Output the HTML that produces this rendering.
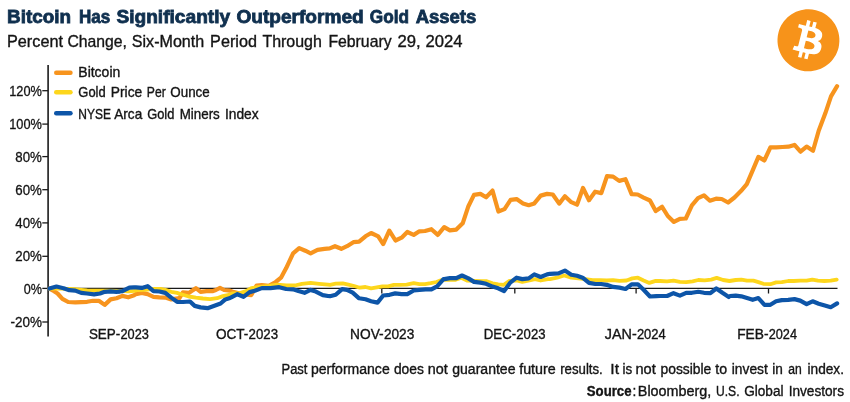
<!DOCTYPE html>
<html><head><meta charset="utf-8"><title>Bitcoin Has Significantly Outperformed Gold Assets</title>
<style>
html,body{margin:0;padding:0;background:#fff}
svg{display:block;font-family:"Liberation Sans",sans-serif}
</style></head><body>
<svg width="850" height="402" viewBox="0 0 850 402">
<rect width="850" height="402" fill="#fff"/>
<text y="22.7" font-size="17.9" font-weight="700" fill="#10304f" stroke="#10304f" stroke-width="0.8"><tspan x="7.0" textLength="64.0" lengthAdjust="spacingAndGlyphs">Bitcoin</tspan> <tspan x="79.0" textLength="31.2" lengthAdjust="spacingAndGlyphs">Has</tspan> <tspan x="116.4" textLength="113.8" lengthAdjust="spacingAndGlyphs">Significantly</tspan> <tspan x="236.4" textLength="127.3" lengthAdjust="spacingAndGlyphs">Outperformed</tspan> <tspan x="369.8" textLength="39.2" lengthAdjust="spacingAndGlyphs">Gold</tspan> <tspan x="415.7" textLength="60.6" lengthAdjust="spacingAndGlyphs">Assets</tspan></text>
<text y="47" font-size="16.2" font-weight="400" fill="#141414" stroke="#141414" stroke-width="0.35"><tspan x="7.0" textLength="56.0" lengthAdjust="spacingAndGlyphs">Percent</tspan> <tspan x="67.4" textLength="59.6" lengthAdjust="spacingAndGlyphs">Change,</tspan> <tspan x="131.8" textLength="72.4" lengthAdjust="spacingAndGlyphs">Six-Month</tspan> <tspan x="210.1" textLength="46.8" lengthAdjust="spacingAndGlyphs">Period</tspan> <tspan x="262.4" textLength="59.5" lengthAdjust="spacingAndGlyphs">Through</tspan> <tspan x="328.4" textLength="63.2" lengthAdjust="spacingAndGlyphs">February</tspan> <tspan x="397.4" textLength="23.2" lengthAdjust="spacingAndGlyphs">29,</tspan> <tspan x="425.6" textLength="37.0" lengthAdjust="spacingAndGlyphs">2024</tspan></text>
<line x1="56.2" y1="72.7" x2="70.5" y2="72.7" stroke="#F7941E" stroke-width="4.4" stroke-linecap="round"/>
<text y="76.7" font-size="13.9" font-weight="400" fill="#141414" stroke="#141414" stroke-width="0.35"><tspan x="78.3" textLength="42.0" lengthAdjust="spacingAndGlyphs">Bitcoin</tspan></text>
<line x1="56.2" y1="92.3" x2="70.5" y2="92.3" stroke="#FDD61C" stroke-width="4.4" stroke-linecap="round"/>
<text y="97.2" font-size="13.9" font-weight="400" fill="#141414" stroke="#141414" stroke-width="0.35"><tspan x="78.3" textLength="27.4" lengthAdjust="spacingAndGlyphs">Gold</tspan> <tspan x="110.8" textLength="31.4" lengthAdjust="spacingAndGlyphs">Price</tspan> <tspan x="146.8" textLength="18.9" lengthAdjust="spacingAndGlyphs">Per</tspan> <tspan x="170.3" textLength="39.4" lengthAdjust="spacingAndGlyphs">Ounce</tspan></text>
<line x1="56.2" y1="113.3" x2="70.5" y2="113.3" stroke="#0D55A8" stroke-width="4.4" stroke-linecap="round"/>
<text y="118.6" font-size="13.9" font-weight="400" fill="#141414" stroke="#141414" stroke-width="0.35"><tspan x="78.3" textLength="32.6" lengthAdjust="spacingAndGlyphs">NYSE</tspan> <tspan x="114.3" textLength="27.9" lengthAdjust="spacingAndGlyphs">Arca</tspan> <tspan x="147.2" textLength="27.2" lengthAdjust="spacingAndGlyphs">Gold</tspan> <tspan x="179.7" textLength="40.1" lengthAdjust="spacingAndGlyphs">Miners</tspan> <tspan x="224.9" textLength="33.7" lengthAdjust="spacingAndGlyphs">Index</tspan></text>
<line x1="48.1" y1="65" x2="48.1" y2="336.5" stroke="#1a1a1a" stroke-width="1.6"/>
<line x1="48" y1="288.4" x2="837.5" y2="288.4" stroke="#1a1a1a" stroke-width="1.3"/>
<line x1="42.3" y1="90.7" x2="48" y2="90.7" stroke="#1a1a1a" stroke-width="1.3"/>
<text x="9.2" y="95.8" font-size="14" font-weight="400" fill="#141414" text-anchor="start" textLength="32.7" lengthAdjust="spacingAndGlyphs" stroke="#141414" stroke-width="0.3">120%</text>
<line x1="42.3" y1="124.1" x2="48" y2="124.1" stroke="#1a1a1a" stroke-width="1.3"/>
<text x="9.2" y="129.2" font-size="14" font-weight="400" fill="#141414" text-anchor="start" textLength="32.7" lengthAdjust="spacingAndGlyphs" stroke="#141414" stroke-width="0.3">100%</text>
<line x1="42.3" y1="156.6" x2="48" y2="156.6" stroke="#1a1a1a" stroke-width="1.3"/>
<text x="15.3" y="161.7" font-size="14" font-weight="400" fill="#141414" text-anchor="start" textLength="26.6" lengthAdjust="spacingAndGlyphs" stroke="#141414" stroke-width="0.3">80%</text>
<line x1="42.3" y1="189.7" x2="48" y2="189.7" stroke="#1a1a1a" stroke-width="1.3"/>
<text x="15.3" y="194.8" font-size="14" font-weight="400" fill="#141414" text-anchor="start" textLength="26.6" lengthAdjust="spacingAndGlyphs" stroke="#141414" stroke-width="0.3">60%</text>
<line x1="42.3" y1="222.9" x2="48" y2="222.9" stroke="#1a1a1a" stroke-width="1.3"/>
<text x="15.3" y="228.0" font-size="14" font-weight="400" fill="#141414" text-anchor="start" textLength="26.6" lengthAdjust="spacingAndGlyphs" stroke="#141414" stroke-width="0.3">40%</text>
<line x1="42.3" y1="256.3" x2="48" y2="256.3" stroke="#1a1a1a" stroke-width="1.3"/>
<text x="15.3" y="261.4" font-size="14" font-weight="400" fill="#141414" text-anchor="start" textLength="26.6" lengthAdjust="spacingAndGlyphs" stroke="#141414" stroke-width="0.3">20%</text>
<line x1="42.3" y1="288.4" x2="48" y2="288.4" stroke="#1a1a1a" stroke-width="1.3"/>
<text x="23.7" y="293.5" font-size="14" font-weight="400" fill="#141414" text-anchor="start" textLength="18.2" lengthAdjust="spacingAndGlyphs" stroke="#141414" stroke-width="0.3">0%</text>
<line x1="42.3" y1="322.0" x2="48" y2="322.0" stroke="#1a1a1a" stroke-width="1.3"/>
<text x="10.4" y="327.1" font-size="14" font-weight="400" fill="#141414" text-anchor="start" textLength="31.5" lengthAdjust="spacingAndGlyphs" stroke="#141414" stroke-width="0.3">-20%</text>
<line x1="119" y1="288.5" x2="119" y2="293.5" stroke="#1a1a1a" stroke-width="1.3"/>
<text y="338.8" font-size="14.1" font-weight="400" fill="#141414" stroke="#141414" stroke-width="0.35"><tspan x="88.9" textLength="31.4" lengthAdjust="spacingAndGlyphs">SEP-</tspan><tspan x="120.5" textLength="28.4" lengthAdjust="spacingAndGlyphs">2023</tspan></text>
<line x1="247" y1="288.5" x2="247" y2="293.5" stroke="#1a1a1a" stroke-width="1.3"/>
<text y="338.8" font-size="14.1" font-weight="400" fill="#141414" stroke="#141414" stroke-width="0.35"><tspan x="215.9" textLength="32.5" lengthAdjust="spacingAndGlyphs">OCT-</tspan><tspan x="248.6" textLength="29.5" lengthAdjust="spacingAndGlyphs">2023</tspan></text>
<line x1="381.8" y1="288.5" x2="381.8" y2="293.5" stroke="#1a1a1a" stroke-width="1.3"/>
<text y="338.8" font-size="14.1" font-weight="400" fill="#141414" stroke="#141414" stroke-width="0.35"><tspan x="350.1" textLength="33.6" lengthAdjust="spacingAndGlyphs">NOV-</tspan><tspan x="383.9" textLength="30.4" lengthAdjust="spacingAndGlyphs">2023</tspan></text>
<line x1="514.8" y1="288.5" x2="514.8" y2="293.5" stroke="#1a1a1a" stroke-width="1.3"/>
<text y="338.8" font-size="14.1" font-weight="400" fill="#141414" stroke="#141414" stroke-width="0.35"><tspan x="483.8" textLength="32.3" lengthAdjust="spacingAndGlyphs">DEC-</tspan><tspan x="516.3" textLength="29.2" lengthAdjust="spacingAndGlyphs">2023</tspan></text>
<line x1="636.1" y1="288.5" x2="636.1" y2="293.5" stroke="#1a1a1a" stroke-width="1.3"/>
<text y="338.8" font-size="14.1" font-weight="400" fill="#141414" stroke="#141414" stroke-width="0.35"><tspan x="604.8" textLength="31.9" lengthAdjust="spacingAndGlyphs">JAN-</tspan><tspan x="636.9" textLength="28.9" lengthAdjust="spacingAndGlyphs">2024</tspan></text>
<line x1="768.5" y1="288.5" x2="768.5" y2="293.5" stroke="#1a1a1a" stroke-width="1.3"/>
<text y="338.8" font-size="14.1" font-weight="400" fill="#141414" stroke="#141414" stroke-width="0.35"><tspan x="737.2" textLength="31.3" lengthAdjust="spacingAndGlyphs">FEB-</tspan><tspan x="768.7" textLength="28.3" lengthAdjust="spacingAndGlyphs">2024</tspan></text>
<path d="M49.4,288.6 L54.1,291.2 L57.6,293.5 L62.4,298.8 L68.2,302.0 L75.3,302.4 L87.1,301.8 L92.9,300.8 L98.8,300.8 L104.7,304.9 L110.6,299.4 L116.5,298.2 L122.4,295.9 L128.2,297.3 L134.1,295.3 L135.9,294.1 L141.8,292.9 L147.6,294.1 L153.5,296.8 L159.4,297.3 L165.3,297.6 L171.2,299.4 L179.4,298.2 L182.9,292.4 L188.8,292.9 L192.4,290.6 L195.9,288.2 L200.6,291.8 L206.5,291.2 L212.4,291.2 L215.9,290.0 L220.0,287.9 L224.1,290.0 L230.0,290.6 L233.9,292.1 L242.6,294.2 L251.3,295.1 L256.6,285.5 L261.8,285.2 L268.8,285.9 L275.7,282.0 L281.0,277.7 L286.2,268.1 L293.1,253.3 L299.2,248.1 L305.3,250.7 L310.6,253.3 L317.5,249.8 L324.5,248.9 L329.7,248.4 L335.0,246.2 L341.3,248.8 L347.0,246.2 L353.4,242.2 L359.1,241.7 L365.5,236.3 L371.1,233.0 L378.2,236.3 L383.2,244.1 L389.3,230.6 L395.5,240.5 L401.6,237.7 L407.3,232.0 L413.7,234.9 L419.4,231.3 L425.0,231.0 L431.4,229.2 L437.8,234.9 L444.2,227.1 L449.9,230.4 L456.3,229.6 L462.7,223.3 L468.4,206.2 L474.0,194.9 L480.4,193.9 L486.1,197.3 L492.5,190.6 L498.4,211.5 L504.5,209.1 L510.6,199.9 L516.6,199.1 L523.0,203.4 L528.7,205.2 L534.3,203.4 L540.7,195.6 L547.1,193.9 L552.8,194.5 L559.2,203.6 L564.9,196.2 L571.3,202.2 L577.0,204.7 L583.0,188.0 L589.0,200.2 L595.1,191.7 L601.3,193.1 L607.0,176.1 L613.1,176.6 L619.2,180.9 L625.5,179.2 L631.6,194.1 L637.7,194.5 L643.6,197.6 L650.0,200.5 L655.7,211.1 L662.1,206.8 L667.8,216.0 L673.9,221.9 L679.9,218.8 L685.8,218.5 L691.9,205.3 L698.0,198.2 L704.0,195.4 L709.9,200.7 L716.0,198.7 L721.7,199.0 L728.1,202.5 L734.5,197.5 L740.9,191.1 L746.8,184.1 L752.7,170.4 L758.4,156.9 L764.3,160.5 L770.4,147.4 L776.1,147.4 L782.5,147.0 L788.4,146.7 L794.5,144.9 L800.5,151.7 L806.6,146.6 L813.0,150.8 L818.7,130.7 L825.3,113.3 L831.0,96.3 L837.1,86.2" fill="none" stroke="#F7941E" stroke-width="4.2" stroke-linejoin="round" stroke-linecap="round"/>
<path d="M49.4,288.6 L57.6,288.4 L67.1,288.8 L75.3,289.1 L81.2,289.8 L87.1,290.5 L95.3,290.7 L102.4,290.6 L107.1,290.6 L116.5,290.8 L122.4,290.9 L128.2,291.4 L134.1,290.8 L137.1,290.2 L145.3,289.8 L153.5,288.8 L160.6,288.8 L165.3,289.8 L171.2,291.8 L177.1,292.9 L182.9,294.7 L188.8,296.5 L195.9,297.6 L202.9,298.5 L210.0,299.2 L217.1,298.2 L222.9,296.1 L230.0,294.7 L232.2,293.3 L239.2,293.3 L246.1,291.1 L251.3,288.1 L260.1,286.9 L268.8,285.9 L277.5,284.6 L286.2,285.5 L294.9,285.5 L301.9,283.8 L310.6,282.9 L319.3,283.8 L328.0,284.6 L330.0,284.9 L335.7,283.7 L342.8,283.4 L348.4,284.6 L354.1,286.0 L359.8,287.7 L365.5,287.0 L371.1,288.4 L376.8,287.4 L382.5,286.3 L388.2,286.3 L393.8,284.9 L399.5,284.9 L406.6,284.6 L413.7,283.2 L419.4,284.1 L425.0,284.1 L430.7,283.2 L436.4,282.0 L442.1,279.9 L445.7,279.8 L455.6,279.8 L461.3,277.7 L467.0,280.5 L474.0,280.9 L481.1,281.2 L486.8,281.2 L492.5,283.3 L498.2,284.3 L503.8,284.8 L509.5,280.9 L516.6,280.5 L522.3,281.9 L529.4,280.5 L535.0,279.1 L540.7,280.5 L547.8,279.1 L550.0,279.1 L557.1,277.7 L564.2,275.5 L571.3,277.7 L578.4,278.4 L585.5,279.1 L592.6,280.1 L599.6,280.1 L606.7,280.5 L613.1,280.1 L619.5,280.9 L626.6,280.5 L632.3,278.4 L637.9,277.7 L643.6,280.5 L649.3,282.9 L655.7,280.9 L660.0,281.0 L667.1,281.4 L673.5,280.7 L679.9,281.8 L686.2,282.1 L692.6,281.4 L698.3,280.0 L704.7,280.4 L711.1,279.6 L716.7,277.9 L723.1,280.0 L729.5,281.0 L735.7,280.0 L741.3,279.6 L747.0,280.7 L753.4,280.7 L758.4,282.1 L763.3,283.8 L770.4,284.2 L776.1,282.4 L781.8,282.1 L788.2,281.0 L793.8,281.0 L800.2,280.7 L806.6,280.7 L812.3,279.6 L817.9,280.7 L824.3,281.0 L830.7,280.7 L836.7,279.6" fill="none" stroke="#FDD61C" stroke-width="3.8" stroke-linejoin="round" stroke-linecap="round"/>
<path d="M49.4,288.6 L56.5,286.5 L63.5,288.2 L69.4,290.2 L75.3,290.6 L81.2,292.9 L87.1,293.5 L94.1,294.4 L100.0,293.5 L104.7,291.8 L110.6,291.4 L116.5,291.8 L122.4,291.2 L129.4,287.6 L134.1,287.4 L135.9,287.4 L141.8,287.9 L147.6,286.2 L153.5,291.2 L159.4,291.5 L165.3,292.9 L171.2,297.6 L177.1,301.8 L182.9,302.0 L190.0,301.5 L194.7,305.9 L200.6,307.4 L207.6,308.2 L212.4,306.5 L220.6,303.5 L225.3,299.4 L230.0,298.0 L232.2,296.8 L237.4,294.2 L243.5,296.8 L249.6,292.1 L254.8,290.7 L261.8,288.1 L270.5,288.1 L279.2,287.2 L286.2,289.0 L293.1,289.3 L298.4,291.1 L304.5,292.8 L310.6,289.9 L315.8,291.6 L322.8,295.1 L328.0,296.0 L330.0,296.2 L335.7,294.8 L342.1,289.1 L347.0,289.8 L352.7,292.7 L359.1,298.3 L365.5,299.3 L371.1,301.2 L377.5,302.6 L383.2,295.5 L389.6,294.8 L395.2,293.4 L401.6,294.1 L407.3,294.1 L413.7,290.5 L419.4,289.8 L425.7,289.4 L431.4,289.4 L437.1,286.3 L443.5,279.2 L444.3,279.1 L449.9,278.1 L456.3,278.1 L462.0,275.5 L468.4,278.4 L474.0,281.9 L480.4,282.6 L486.1,283.8 L492.5,286.6 L498.2,288.3 L504.1,291.1 L510.2,282.6 L516.6,277.7 L522.3,279.1 L528.7,278.4 L534.3,274.4 L540.7,277.0 L547.1,274.4 L550.0,273.8 L558.5,273.4 L564.9,270.6 L571.3,274.8 L577.0,275.8 L582.6,277.7 L589.0,282.9 L595.4,284.0 L601.1,284.0 L606.7,284.8 L613.1,286.9 L619.5,287.6 L625.5,289.0 L631.6,284.3 L637.9,284.3 L643.6,289.7 L650.0,296.5 L656.4,296.1 L660.0,296.0 L667.1,296.0 L673.5,293.2 L679.9,295.6 L686.2,292.8 L691.9,292.8 L698.3,291.8 L704.0,292.8 L710.4,293.2 L716.3,288.5 L722.4,292.8 L728.8,297.0 L730.0,296.0 L735.7,295.6 L741.3,296.3 L747.0,298.0 L752.7,299.8 L758.4,298.1 L764.5,304.8 L770.4,304.8 L776.1,301.3 L781.8,300.1 L788.2,299.8 L794.5,299.1 L800.2,300.6 L806.6,304.1 L812.6,301.3 L818.7,303.7 L824.8,305.5 L830.7,307.2 L837.1,303.4" fill="none" stroke="#0D55A8" stroke-width="4.2" stroke-linejoin="round" stroke-linecap="round"/>
<text y="373.8" font-size="14" font-weight="400" fill="#141414" stroke="#141414" stroke-width="0.35"><tspan x="281.5" textLength="25.9" lengthAdjust="spacingAndGlyphs">Past</tspan> <tspan x="310.9" textLength="78.8" lengthAdjust="spacingAndGlyphs">performance</tspan> <tspan x="393.9" textLength="29.9" lengthAdjust="spacingAndGlyphs">does</tspan> <tspan x="427.8" textLength="20.0" lengthAdjust="spacingAndGlyphs">not</tspan> <tspan x="452.2" textLength="63.3" lengthAdjust="spacingAndGlyphs">guarantee</tspan> <tspan x="519.2" textLength="36.5" lengthAdjust="spacingAndGlyphs">future</tspan> <tspan x="560.2" textLength="42.6" lengthAdjust="spacingAndGlyphs">results.</tspan> <tspan x="610.3" textLength="8.7" lengthAdjust="spacingAndGlyphs">It</tspan> <tspan x="622.5" textLength="9.7" lengthAdjust="spacingAndGlyphs">is</tspan> <tspan x="635.5" textLength="20.3" lengthAdjust="spacingAndGlyphs">not</tspan> <tspan x="660.5" textLength="50.8" lengthAdjust="spacingAndGlyphs">possible</tspan> <tspan x="715.3" textLength="11.8" lengthAdjust="spacingAndGlyphs">to</tspan> <tspan x="731.8" textLength="36.0" lengthAdjust="spacingAndGlyphs">invest</tspan> <tspan x="772.2" textLength="10.6" lengthAdjust="spacingAndGlyphs">in</tspan> <tspan x="788.2" textLength="13.5" lengthAdjust="spacingAndGlyphs">an</tspan> <tspan x="807.5" textLength="36.5" lengthAdjust="spacingAndGlyphs">index.</tspan></text>
<text y="396" font-size="14" font-weight="400" fill="#141414" stroke="#141414" stroke-width="0.35"><tspan x="586.8" textLength="44.7" lengthAdjust="spacingAndGlyphs" font-weight="700">Source</tspan> <tspan x="632.4" textLength="3.8" lengthAdjust="spacingAndGlyphs">:</tspan> <tspan x="637.8" textLength="73.5" lengthAdjust="spacingAndGlyphs">Bloomberg,</tspan> <tspan x="716.0" textLength="23.5" lengthAdjust="spacingAndGlyphs">U.S.</tspan> <tspan x="744.2" textLength="39.3" lengthAdjust="spacingAndGlyphs">Global</tspan> <tspan x="788.7" textLength="55.3" lengthAdjust="spacingAndGlyphs">Investors</tspan></text>
<g transform="translate(777.5,9.3) scale(0.015155)">
<path fill="#F7931A" d="M4030.06 2540.77c-273.24,1096.01 -1383.32,1763.02 -2479.46,1489.71 -1095.68,-273.24 -1762.69,-1383.39 -1489.33,-2479.31 273.12,-1096.13 1383.2,-1763.19 2479,-1489.95 1096.06,273.24 1763.03,1383.51 1489.76,2479.57l0.02 -0.02z"/>
<path fill="#fff" d="M2947.77 1754.38c40.72,-272.26 -166.56,-418.61 -450,-516.24l91.95 -368.8 -224.5 -55.94 -89.51 359.09c-59.02,-14.72 -119.63,-28.59 -179.87,-42.34l90.16 -361.46 -224.36 -55.94 -92 368.68c-48.84,-11.12 -96.81,-22.11 -143.35,-33.69l0.26 -1.16 -309.59 -77.31 -59.72 239.78c0,0 166.56,38.18 163.05,40.53 90.91,22.69 107.35,82.87 104.62,130.57l-104.74 420.15c6.26,1.59 14.38,3.89 23.34,7.49 -7.49,-1.86 -15.46,-3.89 -23.73,-5.87l-146.81 588.57c-11.11,27.62 -39.31,69.07 -102.87,53.33 2.25,3.26 -163.17,-40.72 -163.17,-40.72l-111.46 256.98 292.15 72.83c54.35,13.63 107.61,27.89 160.06,41.3l-92.9 373.03 224.24 55.94 92 -369.07c61.26,16.63 120.71,31.97 178.91,46.43l-91.69 367.33 224.51 55.94 92.89 -372.33c382.82,72.45 670.67,43.24 791.83,-303.02 97.63,-278.78 -4.86,-439.58 -206.26,-544.44 146.69,-33.83 257.18,-130.31 286.64,-329.61l-0.07 -0.05zm-512.93 719.26c-69.38,278.78 -538.76,128.08 -690.94,90.29l123.28 -494.2c152.17,37.99 640.17,113.17 567.67,403.91zm69.43 -723.3c-63.29,253.58 -453.96,124.75 -580.69,93.16l111.77 -448.21c126.73,31.59 534.85,90.55 468.94,355.05l-0.02 0z"/>
</g>
</svg>
</body></html>
